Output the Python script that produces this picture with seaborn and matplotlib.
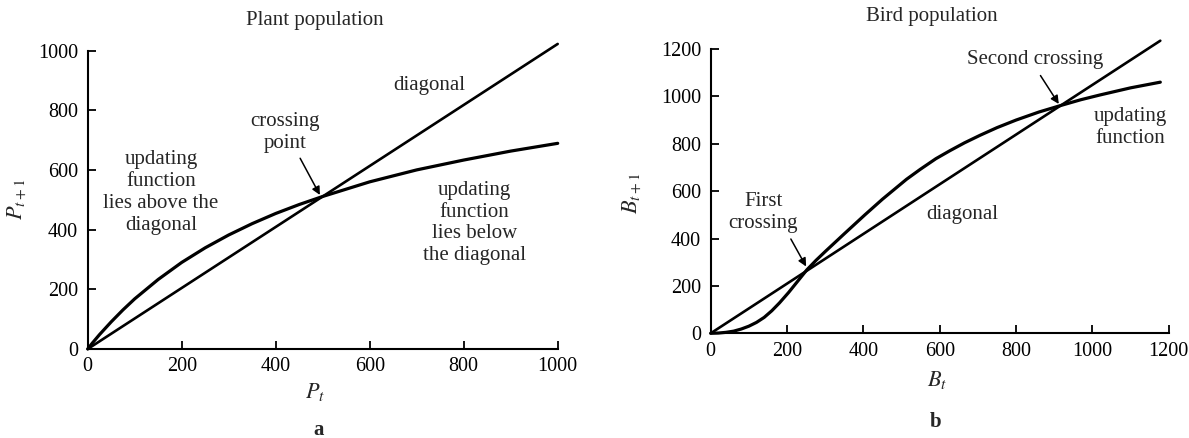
import numpy as np
import pandas as pd
import matplotlib
matplotlib.use("Agg")
import matplotlib.pyplot as plt
import seaborn as sns

# ---- data ----
plant_x = [0, 10, 25, 50, 75, 100, 150, 200, 250, 300, 350, 400, 450, 500, 600, 700, 800, 900, 1000]
plant_update = [0, 20, 48, 91, 131, 168, 233, 290, 339, 382, 420, 454, 484, 511, 560, 600, 633, 663, 689]
plant_diag_x = [0, 1000]
plant_diag_y = [0, 1022]

bird_x = [0, 20, 40, 60, 80, 100, 120, 140, 160, 180, 204, 228, 252, 276, 300, 350, 404, 450,
          513, 549, 590, 627, 665, 706, 750, 800, 860, 916, 970, 1020, 1100, 1178]
bird_update = [0, 1, 4, 9, 18, 30, 46, 67, 95, 128, 172, 220, 268, 308, 345, 420, 500, 566,
               650, 692, 737, 771, 804, 836, 868, 900, 934, 961, 986, 1006, 1036, 1060]
bird_diag_x = [0, 1178]
bird_diag_y = [0, 1235]

plant_ticks = [0, 200, 400, 600, 800, 1000]
bird_ticks = [0, 200, 400, 600, 800, 1000, 1200]

sns.set_theme(style="ticks")
plt.rcParams["font.family"] = ["Liberation Serif", "DejaVu Serif"]
plt.rcParams["mathtext.fontset"] = "stix"

W, H = 1189, 438
fig = plt.figure(figsize=(W / 100, H / 100), dpi=100)

def px_axes(x0, x1, y_bottom, y_top):
    return fig.add_axes([x0 / W, 1 - y_bottom / H, (x1 - x0) / W, (y_bottom - y_top) / H])

axA = px_axes(87.7, 557.7, 349.0, 50.5)
axB = px_axes(710.7, 1168.7, 333.3, 49.0)

TXT = 15
TCK = 14.5

for ax in (axA, axB):
    for s in ("top", "right"):
        ax.spines[s].set_visible(False)
    for s in ("left", "bottom"):
        ax.spines[s].set_linewidth(1.5)
        ax.spines[s].set_color("black")
    ax.tick_params(direction="in", length=6, width=1.3, colors="black", labelsize=TCK)
    ax.tick_params(axis="x", pad=6)
    ax.tick_params(axis="y", pad=7)
    ax.set_facecolor("white")

# ---- panel a ----
sns.lineplot(x=plant_diag_x, y=plant_diag_y, ax=axA, color="black", linewidth=1.9, clip_on=False)
sns.lineplot(x=plant_x, y=plant_update, ax=axA, color="black", linewidth=2.3, clip_on=False)
axA.set_xlim(0, 1000)
axA.set_ylim(0, 1000)
axA.set_xticks(plant_ticks)
axA.set_yticks(plant_ticks)
axA.set_xlabel("$P_t$", fontsize=16, va="center")
axA.xaxis.set_label_coords(0.484, -0.145)
axA.set_ylabel("$P_{t+1}$", fontsize=16, va="center")
axA.yaxis.set_label_coords(-0.150, 0.5)

axA.text(156, 524, "updating\nfunction\nlies above the\ndiagonal", ha="center", va="center", fontsize=TXT)
axA.text(420, 725, "crossing\npoint", ha="center", va="center", fontsize=TXT)
axA.text(726, 884, "diagonal", ha="center", va="center", fontsize=TXT)
axA.text(823, 422, "updating\nfunction\nlies below\nthe diagonal", ha="center", va="center", fontsize=TXT)
axA.annotate("", xy=(494, 516), xytext=(452, 639),
             arrowprops=dict(arrowstyle="-|>", color="black", lw=1.1, mutation_scale=12, shrinkA=0, shrinkB=0))

# ---- panel b ----
sns.lineplot(x=bird_diag_x, y=bird_diag_y, ax=axB, color="black", linewidth=1.9, clip_on=False)
sns.lineplot(x=bird_x, y=bird_update, ax=axB, color="black", linewidth=2.3, clip_on=False)
axB.set_xlim(0, 1200)
axB.set_ylim(0, 1200)
axB.set_xticks(bird_ticks)
axB.set_yticks(bird_ticks)
axB.set_xlabel("$B_t$", fontsize=16, va="center")
axB.xaxis.set_label_coords(0.495, -0.164)
axB.set_ylabel("$B_{t+1}$", fontsize=16, va="center")
axB.yaxis.set_label_coords(-0.172, 0.493)

axB.text(138, 511, "First\ncrossing", ha="center", va="center", fontsize=TXT)
axB.text(660, 500, "diagonal", ha="center", va="center", fontsize=TXT)
axB.text(850, 1156, "Second crossing", ha="center", va="center", fontsize=TXT)
axB.text(1100, 870, "updating\nfunction", ha="center", va="center", fontsize=TXT)
axB.annotate("", xy=(250, 282), xytext=(210, 398),
             arrowprops=dict(arrowstyle="-|>", color="black", lw=1.1, mutation_scale=12, shrinkA=0, shrinkB=0))
axB.annotate("", xy=(912, 968), xytext=(864, 1088),
             arrowprops=dict(arrowstyle="-|>", color="black", lw=1.1, mutation_scale=12, shrinkA=0, shrinkB=0))

# ---- titles and panel letters ----
fig.text(315 / W, 1 - 20 / H, "Plant population", ha="center", va="center", fontsize=TXT)
fig.text(931.7 / W, 1 - 17 / H, "Bird population", ha="center", va="center", fontsize=TXT)
fig.text(319 / W, 1 - 430 / H, "a", ha="center", va="center", fontsize=TXT, fontweight="bold")
fig.text(935.6 / W, 1 - 422 / H, "b", ha="center", va="center", fontsize=TXT, fontweight="bold")

fig.savefig("out.png", dpi=100, facecolor="white")
